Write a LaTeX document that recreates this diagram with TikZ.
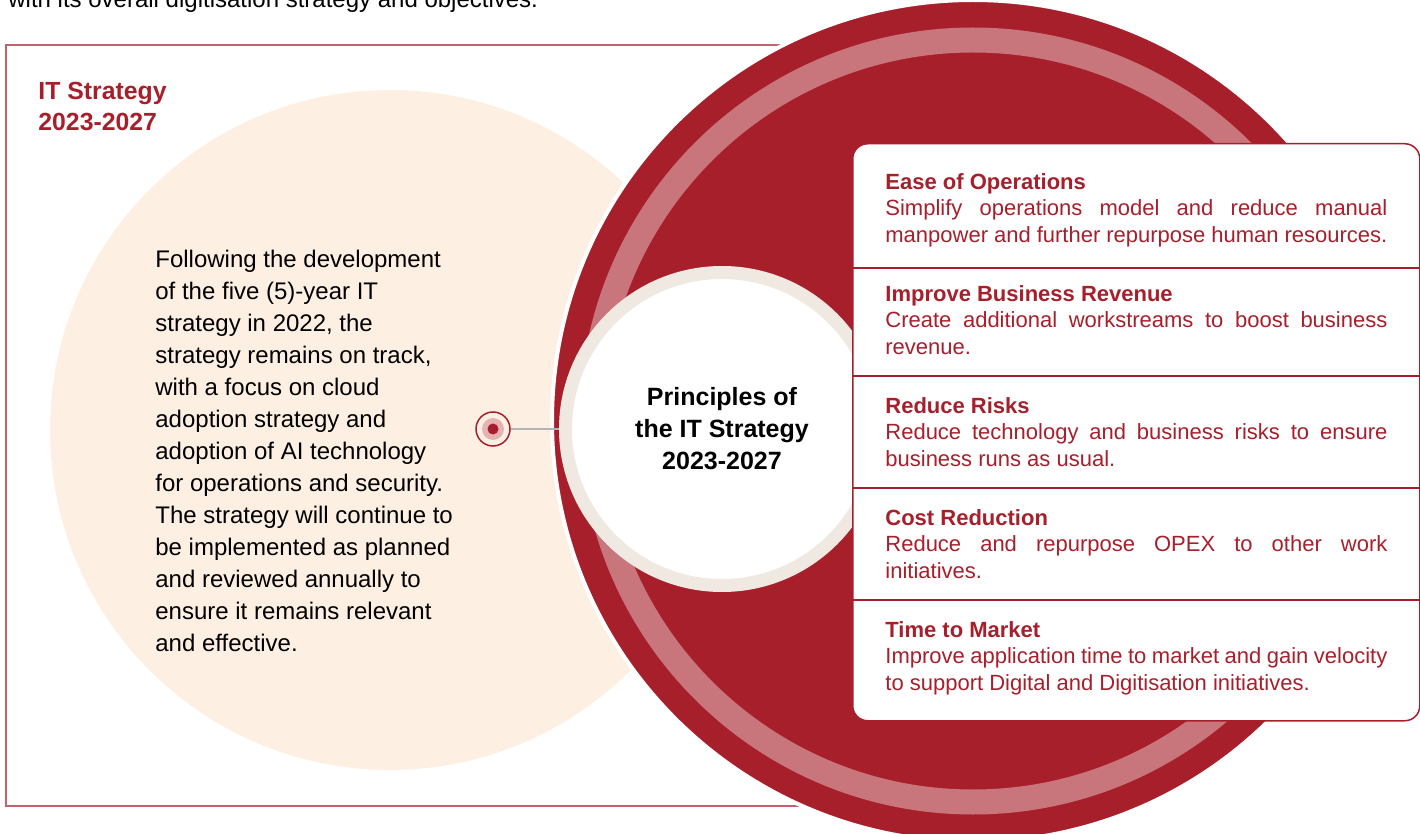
\documentclass[tikz,border=0pt]{standalone}
\usepackage{fontspec}
\setmainfont{Liberation Sans}
\usetikzlibrary{positioning}
\definecolor{itred}{HTML}{A81F2C}
\definecolor{itpink}{HTML}{C8767C}
\definecolor{itbeige}{HTML}{FDF0E2}
\definecolor{ringbeige}{HTML}{F0E9E2}
\definecolor{dotpink}{HTML}{E6B3B5}
\definecolor{conngray}{HTML}{B4B4B4}

\begin{document}
\begin{tikzpicture}[
  x=0.5pt, y=-0.5pt,
  frame/.style={draw=itred!70, line width=0.65pt},
  bodytext/.style={anchor=north west, inner sep=0pt, align=left,
    font=\fontsize{12}{16}\selectfont},
  heading/.style={anchor=north west, inner sep=0pt, align=left, text=itred,
    font=\fontsize{12.4}{15.5}\selectfont\bfseries},
  principle/.style={anchor=north west, inner sep=0pt, text width=251pt,
    align=justify, text=itred, font=\fontsize{11}{13.25}\selectfont},
  divider/.style={draw=itred, line width=0.6pt},
  conn/.style={draw=conngray, line width=0.6pt}
]
  \useasboundingbox (0,0) rectangle (1420,834);

  % intro line, cut off by the page
  \node[anchor=base west, inner sep=0pt, font=\fontsize{12}{16}\selectfont]
    (intro) at (8,8) {with its overall digitisation strategy and objectives.};

  % frame and circles
  \draw[frame] (900,45) -- (6,45) -- (6,806) -- (900,806);
  \fill[itbeige] (390,430) circle (340);
  \draw[fill=itred, draw=white, line width=2pt] (973,421) circle (421);
  \draw[itpink, line width=12.5pt] (973,421) circle (381);

  % left side
  \node[heading] (title) at (38,82) {IT Strategy\\2023-2027};
  \node[bodytext] (body) at (155,250)
    {Following the development\\of the five (5)-year IT\\strategy in 2022, the\\
     strategy remains on track,\\with a focus on cloud\\adoption strategy and\\
     adoption of AI technology\\for operations and security.\\
     The strategy will continue to\\be implemented as planned\\
     and reviewed annually to\\ensure it remains relevant\\and effective.};

  % centre
  \node[circle, fill=white, draw=ringbeige, line width=6.5pt,
    minimum size=156.5pt, inner sep=0pt, align=center,
    font=\fontsize{12.5}{16}\selectfont\bfseries] (ctr) at (722,429)
    {Principles of\\the IT Strategy\\2023-2027};
  \node[circle, draw=itred, line width=0.75pt, minimum size=17pt,
    inner sep=0pt] (tgt) at (493,429) {};
  \fill[dotpink] (tgt.center) circle (11);
  \fill[itred] (tgt.center) circle (5.5);
  \draw[conn] (tgt) -- (ctr);

  % card with principles
  \node[draw=itred, fill=white, line width=0.75pt, rounded corners=7.5pt,
    minimum width=283.5pt, minimum height=288.5pt, inner sep=0pt,
    anchor=north west] (card) at (852,143) {};
  \draw[divider] (852,268) -- (1419,268);
  \draw[divider] (852,376) -- (1419,376);
  \draw[divider] (852,488) -- (1419,488);
  \draw[divider] (852,600) -- (1419,600);

  \node[principle] (ease) at (885,173)
    {\textbf{Ease of Operations}\\
     Simplify operations model and reduce manual\linebreak
     manpower and further repurpose human resources.};
  \node[principle] (revenue) at (885,285)
    {\textbf{Improve Business Revenue}\\
     Create additional workstreams to boost business\linebreak revenue.};
  \node[principle] (risks) at (885,397)
    {\textbf{Reduce Risks}\\
     Reduce technology and business risks to ensure\linebreak
     business runs as usual.};
  \node[principle] (cost) at (885,509)
    {\textbf{Cost Reduction}\\
     Reduce and repurpose OPEX to other work\linebreak initiatives.};
  \node[principle] (market) at (885,621)
    {\textbf{Time to Market}\\
     Improve application time to market and gain velocity\linebreak
     to support Digital and Digitisation initiatives.};
\end{tikzpicture}
\end{document}
